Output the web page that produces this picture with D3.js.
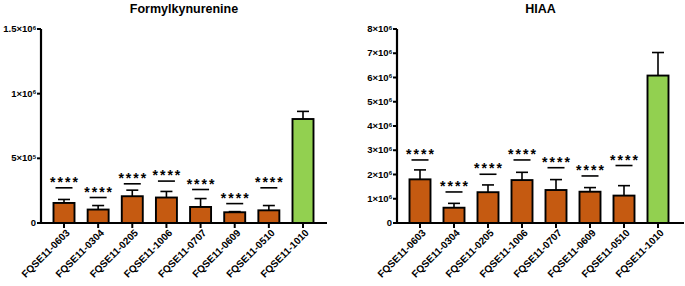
<!DOCTYPE html>
<html>
<head>
<meta charset="utf-8">
<script src="https://cdn.jsdelivr.net/npm/d3@7"></script>
<style>
body { margin: 0; background: #fff; }
text { font-family: "Liberation Sans", Arial, sans-serif; font-weight: bold; }
</style>
</head>
<body>
<svg width="685" height="286"></svg>
<script>
var strains = ['FQSE11-0603', 'FQSE11-0304', 'FQSE11-0205', 'FQSE11-1006',
    'FQSE11-0707', 'FQSE11-0609', 'FQSE11-0510', 'FQSE11-1010'];

// Formylkynurenine
var formylMean = [155000, 104000, 207000, 197000, 124000, 83000, 98000, 804000];
var formylErr  = [27000, 31000, 47000, 47000, 65000, 5000, 37000, 59000];
var formylSig  = [272000, 197000, 303000, 324000, 259000, 150000, 272000, null];
var formylTicks = [0, 500000, 1000000, 1500000];
var formylTickBase = ['0', '5×10', '1×10', '1.5×10'];
var formylTickExp  = ['', '5', '6', '6'];

// HIAA
var hiaaMean = [1800000, 630000, 1270000, 1770000, 1360000, 1290000, 1130000, 6080000];
var hiaaErr  = [390000, 180000, 300000, 320000, 430000, 170000, 410000, 950000];
var hiaaSig  = [2600000, 1280000, 2010000, 2600000, 2280000, 1940000, 2370000, null];
var hiaaTicks = [0, 1e6, 2e6, 3e6, 4e6, 5e6, 6e6, 7e6, 8e6];
var hiaaTickBase = ['0', '1×10', '2×10', '3×10', '4×10', '5×10', '6×10', '7×10', '8×10'];
var hiaaTickExp  = ['', '6', '6', '6', '6', '6', '6', '6', '6'];

var orange = '#C55A11', green = '#92D050';
var svg = d3.select('svg');

function drawPanel(opt) {
    var g = svg.append('g');
    var x = d3.scalePoint().domain(strains).range([opt.c0, opt.c1]);
    var y = d3.scaleLinear().domain([0, opt.max]).range([223, 29]);
    var bw = 21;

    g.append('text')
        .attr('x', (opt.ax + opt.axEnd) / 2)
        .attr('y', 13)
        .attr('text-anchor', 'middle')
        .style('font-size', '12.5px')
        .text(opt.title);

    // error bars (upper only)
    strains.forEach(function(s, i) {
        var cx = x(s);
        g.append('line')
            .attr('x1', cx).attr('x2', cx)
            .attr('y1', y(opt.mean[i])).attr('y2', y(opt.mean[i] + opt.err[i]))
            .attr('stroke', '#000').attr('stroke-width', 1.6);
        g.append('line')
            .attr('x1', cx - 6).attr('x2', cx + 6)
            .attr('y1', y(opt.mean[i] + opt.err[i])).attr('y2', y(opt.mean[i] + opt.err[i]))
            .attr('stroke', '#000').attr('stroke-width', 1.6);
    });

    g.selectAll('rect.bar')
        .data(opt.mean)
        .enter()
        .append('rect')
        .attr('class', 'bar')
        .attr('x', function(d, i) { return x(strains[i]) - bw / 2; })
        .attr('y', function(d) { return y(d); })
        .attr('width', bw)
        .attr('height', function(d) { return y(0) - y(d); })
        .attr('fill', function(d, i) { return i == strains.length - 1 ? green : orange; })
        .attr('stroke', '#000')
        .attr('stroke-width', 1.9);

    // significance marks
    strains.forEach(function(s, i) {
        if (opt.sig[i] == null) return;
        var cx = x(s), sy = y(opt.sig[i]);
        g.append('line')
            .attr('x1', cx - 8.5).attr('x2', cx + 8.5)
            .attr('y1', sy).attr('y2', sy)
            .attr('stroke', '#000').attr('stroke-width', 1.6);
        g.append('text')
            .attr('x', cx + 1)
            .attr('y', sy - 1)
            .attr('text-anchor', 'middle')
            .style('font-size', '14px')
            .style('letter-spacing', '2px')
            .text('****');
    });

    // y axis
    var yAxis = g.append('g')
        .attr('transform', 'translate(' + opt.ax + ',0)')
        .call(d3.axisLeft(y).tickValues(opt.ticks).tickSize(4).tickSizeOuter(0).offset(0)
            .tickFormat(function() { return ''; }));
    yAxis.select('.domain').attr('stroke-width', 2.2).attr('stroke', '#000');
    yAxis.selectAll('.tick line').attr('stroke-width', 2).attr('stroke', '#000');
    yAxis.selectAll('.tick text').each(function(d, i) {
        var t = d3.select(this)
            .attr('x', -5)
            .attr('fill', '#000')
            .style('font-size', '9.5px')
            .style('font-family', '"Liberation Sans", Arial, sans-serif')
            .style('font-weight', 'bold');
        t.append('tspan').text(opt.tickBase[i]);
        if (opt.tickExp[i]) {
            t.append('tspan')
                .attr('dy', '-0.4em')
                .style('font-size', '6px')
                .text(opt.tickExp[i]);
        }
    });

    // x axis
    g.append('line')
        .attr('x1', opt.ax - 1).attr('x2', opt.axEnd)
        .attr('y1', y(0)).attr('y2', y(0))
        .attr('stroke', '#000').attr('stroke-width', 2.2);
    var xAxis = g.append('g')
        .attr('transform', 'translate(0,' + y(0) + ')')
        .call(d3.axisBottom(x).tickSize(5).offset(0));
    xAxis.select('.domain').remove();
    xAxis.selectAll('.tick line').attr('stroke-width', 2).attr('stroke', '#000');
    xAxis.selectAll('.tick text')
        .attr('text-anchor', 'end')
        .attr('transform', 'translate(4,8) rotate(-45)')
        .attr('x', 0).attr('y', 0).attr('dy', '0.35em')
        .attr('fill', '#000')
        .style('font-size', '10px')
        .style('font-family', '"Liberation Sans", Arial, sans-serif')
        .style('font-weight', 'bold');
}

drawPanel({title: 'Formylkynurenine', mean: formylMean, err: formylErr, sig: formylSig,
    ticks: formylTicks, tickBase: formylTickBase, tickExp: formylTickExp, max: 1500000,
    ax: 41, axEnd: 327, c0: 64, c1: 303});
drawPanel({title: 'HIAA', mean: hiaaMean, err: hiaaErr, sig: hiaaSig,
    ticks: hiaaTicks, tickBase: hiaaTickBase, tickExp: hiaaTickExp, max: 8000000,
    ax: 397, axEnd: 684, c0: 420, c1: 658});
</script>
</body>
</html>
